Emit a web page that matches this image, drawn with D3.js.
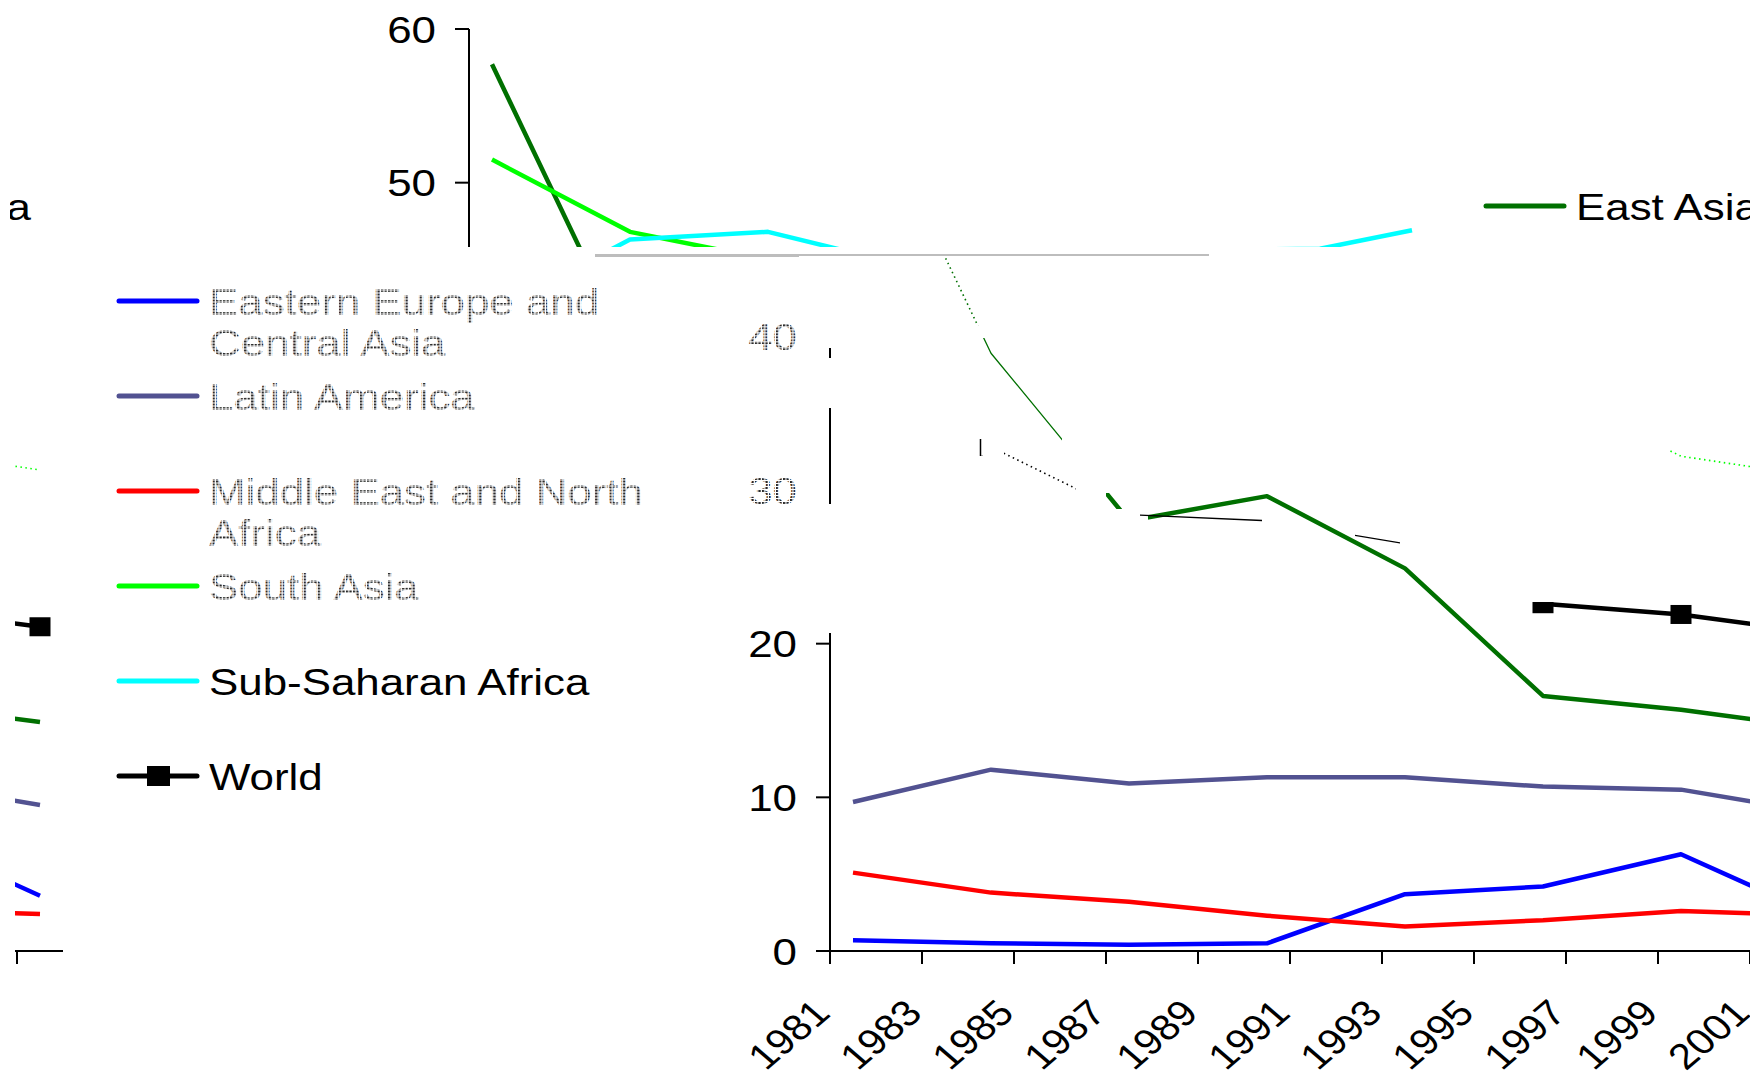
<!DOCTYPE html>
<html><head><meta charset="utf-8">
<script src="https://cdn.jsdelivr.net/npm/d3@7"></script>
<style>body{margin:0;background:#fff;} svg{display:block;}</style>
</head><body>
<svg id="chart" width="1750" height="1074"></svg>
<script>
// ---------------- data ----------------
const surveyYears = [1981, 1984, 1987, 1990, 1993, 1996, 1999, 2001];
const eastAsia      = [57.7, 38.9, 28.0, 29.6, 24.9, 16.6, 15.7, 14.9];
const easternEurope = [0.7, 0.5, 0.4, 0.5, 3.7, 4.2, 6.3, 3.6];
const latinAmerica  = [9.7, 11.8, 10.9, 11.3, 11.3, 10.7, 10.5, 9.5];
const middleEast    = [5.1, 3.8, 3.2, 2.3, 1.6, 2.0, 2.6, 2.4];
const southAsia     = [51.5, 46.8, 45.0, 41.3, 40.1, 36.6, 32.2, 31.3];
const subSaharan    = [41.6, 46.3, 46.8, 44.6, 44.0, 45.6, 45.7, 46.9];
const world         = [40.4, 32.8, 28.4, 28.0, 26.5, 22.6, 21.9, 21.1];
const seriesLabels = [["East Asia"], ["Eastern Europe and", "Central Asia"], ["Latin America"],
  ["Middle East and North", "Africa"], ["South Asia"], ["Sub-Saharan Africa"], ["World"]];
const xTickYears = [1981, 1983, 1985, 1987, 1989, 1991, 1993, 1995, 1997, 1999, 2001];
const yTickValues = [0, 10, 20, 30, 40, 50, 60];

const series = [
  {key: "ea",    values: eastAsia,      color: "#007000", broken: false},
  {key: "eca",   values: easternEurope, color: "#0000ff", broken: true},
  {key: "la",    values: latinAmerica,  color: "#525291", broken: true},
  {key: "mena",  values: middleEast,    color: "#ff0000", broken: true},
  {key: "sa",    values: southAsia,     color: "#00ff00", broken: true},
  {key: "ssa",   values: subSaharan,    color: "#00ffff", broken: false},
  {key: "world", values: world,         color: "#000000", broken: false, marker: true}
].map((s, i) => Object.assign(s, {label: seriesLabels[i]}));

// ---------------- scales ----------------
const x = d3.scaleLinear().domain([1981, 2002]).range([830, 1796]);
const y = d3.scaleLinear().domain([0, 60]).range([951, 29]);
const line = d3.line().x((d, i) => x(surveyYears[i] + 0.5)).y(d => y(d));
const SX = 1.17;          // horizontal stretch of the original picture
const FONT = "'Liberation Sans', Arial, Helvetica, sans-serif";

const svg = d3.select("#chart");
const defs = svg.append("defs");
const pat = defs.append("pattern").attr("id", "broken").attr("patternUnits", "userSpaceOnUse")
  .attr("width", 3).attr("height", 3);
pat.append("rect").attr("width", 2).attr("height", 2).attr("fill", "#2a2a2a");

function addClip(id, rects) {
  const cp = defs.append("clipPath").attr("id", id).attr("clipPathUnits", "userSpaceOnUse");
  rects.forEach(r => cp.append("rect").attr("x", r[0]).attr("y", r[1])
    .attr("width", r[2] - r[0]).attr("height", r[3] - r[1]));
}
// display windows of the damaged picture
addClip("outer-top",  [[10, 0, 1750, 247]]);
addClip("outer-top2", [[1300, 0, 1750, 247]]);
addClip("outer-main", [[0, 255, 1750, 1074]]);
addClip("outer-wrap", [[15, 255, 65, 975]]);
addClip("axis-main",  [[815, 348, 845, 358], [815, 408, 845, 504], [700, 633, 1800, 1074]]);
const fullClips = {
  ea:    [[700, 628, 1800, 1074], [1148, 255, 1800, 628], [1106, 493, 1124, 509]],
  world: [[700, 628, 1800, 1074], [1524, 602, 1800, 628]],
  sa:    [[0, 628, 1800, 1074]],
  ssa:   [[0, 628, 1800, 1074]],
  eca:   [[0, 255, 1800, 1074]], la: [[0, 255, 1800, 1074]], mena: [[0, 255, 1800, 1074]]
};
const thinClips = {ea: [[980, 338, 1062, 442]], world: [[1140, 508, 1262, 530], [1355, 530, 1400, 552]]};
const dotClips  = {ea: [[938, 256, 982, 326]], world: [[1004, 450, 1076, 492]], sa: [[1668, 440, 1800, 480]]};
Object.entries(fullClips).forEach(([k, r]) => addClip("full-" + k, r));
Object.entries(thinClips).forEach(([k, r]) => addClip("thin-" + k, r));
Object.entries(dotClips).forEach(([k, r]) => addClip("dot-" + k, r));
addClip("marker-edge", [[978, 439, 983, 456]]);

function stretchedText(g, tx, ty, txt, extra) {
  return g.append("text")
    .attr("transform", `translate(${tx},${ty}) scale(${SX},1)` + (extra || ""))
    .attr("font-family", FONT).attr("font-size", 37.5).text(txt);
}

// every band shows the whole picture, shifted and seen through its own window
function drawChart(g, mode) {
  const main = mode === "main";
  const x0 = x(1981), yBase = y(0);
  // y axis
  g.append("line").attr("x1", x0).attr("x2", x0).attr("y1", y(60)).attr("y2", yBase)
    .attr("stroke", "#000").attr("stroke-width", 2)
    .attr("clip-path", main ? "url(#axis-main)" : null);
  yTickValues.forEach(v => {
    const broken = main && (v === 30 || v === 40);
    if (!broken) g.append("line").attr("x1", x0 - 14).attr("x2", x0).attr("y1", y(v)).attr("y2", y(v))
      .attr("stroke", "#000").attr("stroke-width", 2);
    stretchedText(g, x0 - 33, y(v), v).attr("text-anchor", "end").attr("dy", "0.36em")
      .attr("fill", broken ? "url(#broken)" : "#000");
  });
  // x axis
  g.append("line").attr("x1", x0 - 14).attr("x2", x(2002)).attr("y1", yBase).attr("y2", yBase)
    .attr("stroke", "#000").attr("stroke-width", 2);
  xTickYears.forEach(yr => {
    g.append("line").attr("x1", x(yr)).attr("x2", x(yr)).attr("y1", yBase).attr("y2", yBase + 13)
      .attr("stroke", "#000").attr("stroke-width", 2);
    stretchedText(g, x(yr) + 2, yBase + 64, yr, " rotate(-45)").attr("text-anchor", "end")
      .attr("font-size", 36).attr("fill", "#000");
  });
  // series
  series.forEach(s => {
    const layers = main
      ? [["full-" + s.key, 4.5, null], thinClips[s.key] ? ["thin-" + s.key, 1.3, null] : null,
         dotClips[s.key] ? ["dot-" + s.key, 1.6, "1.5,3.5"] : null].filter(Boolean)
      : [[null, 4.5, null]];
    layers.forEach(([clip, w, dash]) => {
      g.append("path").datum(s.values).attr("d", line).attr("fill", "none")
        .attr("stroke", s.color).attr("stroke-width", w).attr("stroke-linejoin", "round")
        .attr("stroke-dasharray", dash).attr("clip-path", clip ? `url(#${clip})` : null);
    });
    if (s.marker) {
      g.append("g").attr("clip-path", main ? `url(#full-${s.key})` : null)
        .selectAll("rect").data(s.values).join("rect")
        .attr("x", (d, i) => x(surveyYears[i] + 0.5) - 10.5).attr("y", d => y(d) - 9.5)
        .attr("width", 21).attr("height", 19).attr("fill", s.color);
      if (main) g.append("g").attr("clip-path", "url(#marker-edge)")
        .selectAll("rect").data(s.values).join("rect")
        .attr("x", (d, i) => x(surveyYears[i] + 0.5) - 10.5).attr("y", d => y(d) - 9.5)
        .attr("width", 21).attr("height", 19).attr("fill", "none").attr("stroke", s.color).attr("stroke-width", 1.5);
    }
  });
  // legend
  series.forEach((s, i) => {
    const ly = 206 + 95 * i;
    g.append("line").attr("x1", 119).attr("x2", 197).attr("y1", ly).attr("y2", ly)
      .attr("stroke", s.color).attr("stroke-width", 5).attr("stroke-linecap", "round");
    if (s.marker) g.append("rect").attr("x", 147).attr("y", ly - 10).attr("width", 23).attr("height", 20)
      .attr("fill", s.color);
    s.label.forEach((t, j) => {
      stretchedText(g, 209, ly + 13.5 + 41 * j, t)
        .attr("fill", (main && s.broken) ? "url(#broken)" : "#000");
    });
  });
}

// top band: picture shifted left, wrapping round
const topBand = svg.append("g").attr("clip-path", "url(#outer-top)");
drawChart(topBand.append("g").attr("transform", "translate(-361,0)"), "top");
const topBand2 = svg.append("g").attr("clip-path", "url(#outer-top2)");
drawChart(topBand2.append("g").attr("transform", "translate(1367,0)"), "top");
// main band
const mainBand = svg.append("g").attr("clip-path", "url(#outer-main)");
drawChart(mainBand.append("g"), "main");
// right end of the main band wrapped to the left edge
const wrapBand = svg.append("g").attr("clip-path", "url(#outer-wrap)");
drawChart(wrapBand.append("g").attr("transform", "translate(-1733,0)"), "main");

// seam artefact of the damaged picture
svg.append("line").attr("x1", 595).attr("x2", 1209).attr("y1", 255).attr("y2", 255)
  .attr("stroke", "#bdbdbd").attr("stroke-width", 2);
svg.append("line").attr("x1", 595).attr("x2", 799).attr("y1", 255.5).attr("y2", 255.5)
  .attr("stroke", "#bdbdbd").attr("stroke-width", 3);
</script>
</body></html>
